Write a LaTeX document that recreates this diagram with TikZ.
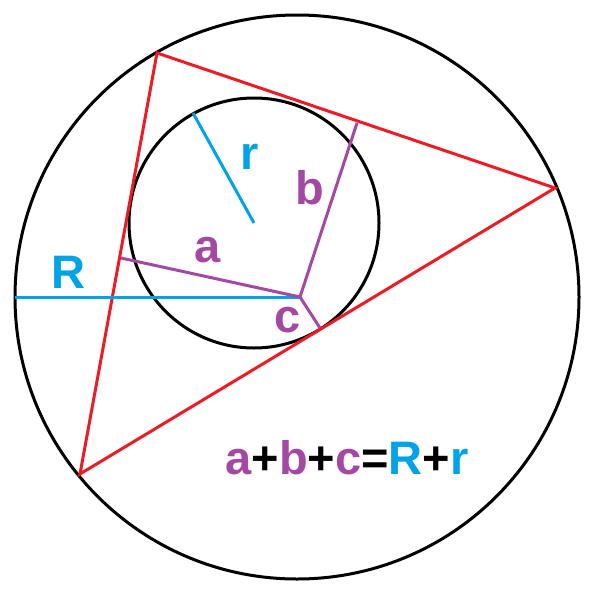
\documentclass[tikz,border=0pt]{standalone}
\usepackage{fontspec}
\setmainfont{Liberation Sans}
\definecolor{myred}{RGB}{237,28,36}
\definecolor{myblue}{RGB}{0,162,232}
\definecolor{mypurple}{RGB}{163,73,164}
\begin{document}
\begin{tikzpicture}[x=1pt,y=-1pt,line width=3pt,
  lbl/.style={font=\fontsize{47}{47}\selectfont\bfseries,inner sep=0pt}]
\useasboundingbox (0,0) rectangle (604,605);
\coordinate (O) at (297,297);
\coordinate (I) at (254,223);
\coordinate (C) at (300,297);
\coordinate (A) at (157,53);
\coordinate (B) at (555,188);
\coordinate (D) at (80,474);
\coordinate (L) at (15,297);
\coordinate (Ta) at (121,258);
\coordinate (Tb) at (357,123);
\coordinate (Tc) at (320,328);
\coordinate (Re) at (193,113);
\draw (O) circle[radius=282];
\draw (I) circle[radius=125];
\draw[myred] (A) -- (B) -- (D) -- cycle;
\draw[myblue] (L) -- (C);
\draw[myblue] (I) -- (Re);
\draw[mypurple] (C) -- (Ta);
\draw[mypurple] (C) -- (Tb);
\draw[mypurple] (C) -- (Tc);
\node[lbl,text=myblue] (r) at (250,157) {r};
\node[lbl,text=mypurple] (b) at (310,188) {b};
\node[lbl,text=mypurple] (a) at (208,250) {a};
\node[lbl,text=myblue] (R) at (68,272) {R};
\node[lbl,text=mypurple] (c) at (288,320) {c};
\node[lbl] (eq) at (347,458) {\textcolor{mypurple}{a}+\textcolor{mypurple}{b}+\textcolor{mypurple}{c}=\textcolor{myblue}{R}+\textcolor{myblue}{r}};
\end{tikzpicture}
\end{document}
